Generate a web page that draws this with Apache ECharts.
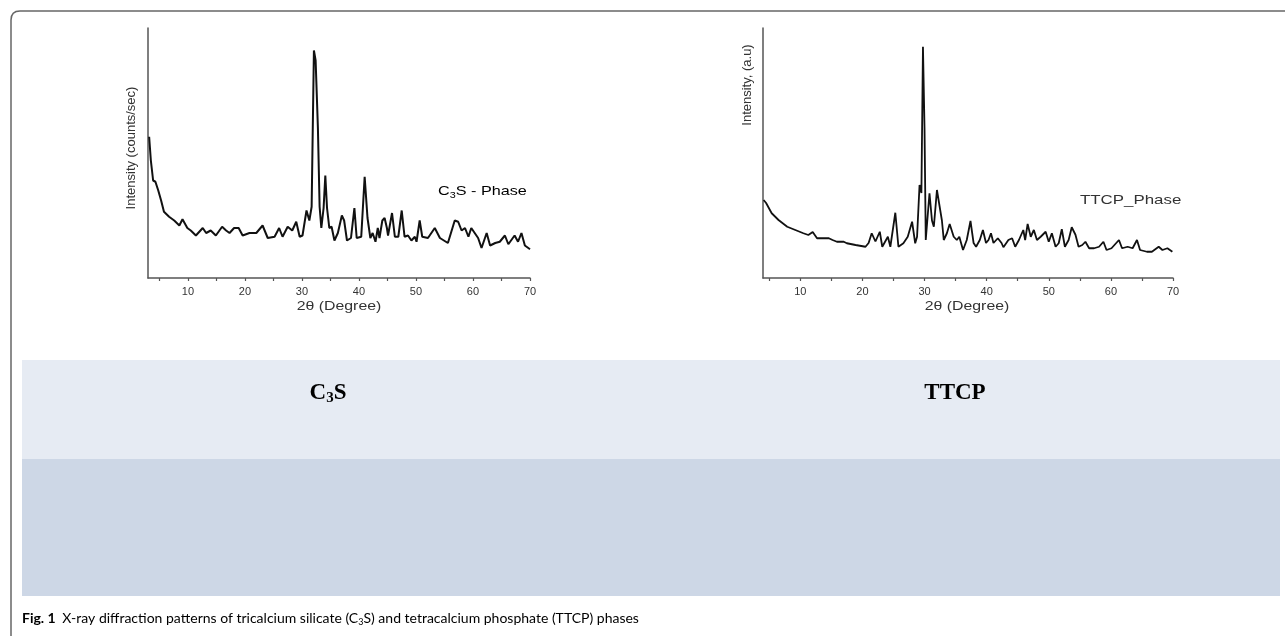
<!DOCTYPE html>
<html>
<head>
<meta charset="utf-8">
<script src="https://cdn.jsdelivr.net/npm/echarts@6/dist/echarts.min.js"></script>
<style>
html,body{margin:0;padding:0;background:#fff;}
#c{width:1285px;height:636px;}
</style>
</head>
<body>
<div id="c"></div>
<script>
// ---- data (2θ in degrees, intensity in arbitrary units) ----
const c3sTheta = [3.2,3.5,3.9,4.3,4.8,5.3,5.8,6.7,7.6,8.5,9.05,9.9,10.5,11.4,12.6,13.2,14.0,14.9,16.0,16.7,17.3,18.1,18.9,19.6,20.8,22.0,23.1,24.0,25.2,26.0,26.6,27.5,28.3,29.0,29.6,30.1,30.8,31.3,31.7,31.9,32.1,32.4,32.6,32.8,33.1,33.4,33.8,34.1,34.4,34.8,35.2,35.7,36.3,37.0,37.4,37.9,38.6,39.2,39.6,40.4,41.0,41.5,42.0,42.4,42.9,43.3,43.6,44.1,44.5,44.9,45.1,45.8,46.3,46.9,47.5,48.0,48.6,49.2,49.8,50.1,50.65,51.1,52.1,53.3,54.2,55.6,56.8,57.4,58.0,58.6,59.2,59.7,60.3,60.9,61.5,62.4,63.0,63.9,64.7,65.6,66.2,67.3,67.9,68.5,69.1,70.0];
const c3sIntensity = [56.5,47,39,38.5,35,31,26.5,24.5,23,21,23.5,20,19,17,20,18,19,17,20.5,19,18,20,20,17,18,18,21,16,16.5,20,16.5,20.5,19,22.5,16.5,17,27,23,28.5,60,91,87,87,60,28.5,20,28,41,28,20,20.5,15,18,25,23,15,16,28,16,16.5,40.5,24,16,18,14.5,20,16,23,24,20,17,26,16.5,16.5,27,16.5,17,15,16.5,14.5,23,16.5,16,20,16,14,23,22.5,19,20,16.5,20,18,16,12,18,13,14,14.5,17,13.5,17,14.5,18,13,11.5];

const ttcpTheta = [4.1,4.5,5.4,6.5,7.9,9.2,10.5,11.3,12.0,12.7,14.6,15.2,15.9,17.0,17.5,18.9,20.5,21.0,21.5,22.1,22.8,23.2,24.1,24.5,25.3,25.8,26.6,27.3,28.0,28.5,28.8,29.2,29.5,29.75,30.0,30.2,30.8,31.2,31.5,32.0,32.3,32.8,33.1,33.6,34.05,34.7,35.2,35.6,36.2,36.8,37.4,37.9,38.3,38.9,39.4,39.9,40.3,40.7,41.1,41.8,42.4,42.7,43.5,44.1,44.6,45.2,45.9,46.2,46.6,47.1,47.6,48.1,48.7,49.5,50.0,50.5,51.1,51.6,52.1,52.6,53.2,53.7,54.3,54.8,55.4,55.9,56.5,57.3,58.1,58.8,59.3,60.1,61.3,61.8,62.7,63.5,64.2,64.7,65.8,66.6,67.7,68.3,69.1,69.9];
const ttcpIntensity = [31.2,30,25.9,23.2,20.5,19.2,17.9,17.2,18.4,15.9,15.9,15.2,14.5,14.5,13.9,13.2,12.5,14,17.9,14.6,18.5,12.5,16.5,12.5,26.1,12.5,13.9,16.5,22.5,13.9,16.5,37.2,34,92.5,60,15.2,33.9,23,20.5,35.2,34.5,23,15.2,17.9,21.6,16.5,15.2,16.5,11.2,15.2,22.8,14,12.5,15.2,19.2,14,15.2,17.9,14,15.9,14,12.3,15.2,15.9,12.5,15.2,19.2,15.2,21.6,16.5,19.2,15.2,16.5,18.5,14.5,17.9,12.5,13.9,19.5,12.5,15.2,20.3,17.3,12.5,13.2,14.5,11.9,11.9,12.5,14.5,11.2,11.9,15.2,11.9,12.5,11.9,15.2,11.2,10.5,10.5,12.5,11.2,11.9,10.5];

const tickValues = [5,10,15,20,25,30,35,40,45,50,55,60,65,70];
const labelValues = [10,20,30,40,50,60,70];
const xAxisName = '2θ (Degree)';
const yNames = ['Intensity (counts/sec)', 'Intensity, (a.u)'];

const pairs = (xs, ys) => xs.map((x, i) => [x, ys[i]]);

const axisColor = '#555';
const font = '"Liberation Sans", Arial, sans-serif';

function makeX(gridIndex, min) {
  return {
    type: 'value', gridIndex: gridIndex, min: min, max: 70,
    axisLine: {show: true, lineStyle: {color: axisColor, width: 1.5}},
    axisTick: {show: true, length: 3, inside: false, customValues: tickValues, lineStyle: {color: axisColor, width: 1.2}},
    axisLabel: {customValues: labelValues, margin: 8, fontFamily: font, fontSize: 11, color: '#333'},
    splitLine: {show: false}
  };
}
function makeY(gridIndex) {
  return {
    type: 'value', gridIndex: gridIndex, min: 0, max: 100,
    axisLine: {show: true, onZero: false, lineStyle: {color: axisColor, width: 1.5}},
    axisTick: {show: false}, axisLabel: {show: false}, splitLine: {show: false}
  };
}
function stretchedText(x, y, text, size, sx, align) {
  return {type: 'text', x: x, y: y, scaleX: sx, style: {
    text: text, align: align, verticalAlign: 'middle', fontFamily: font, fontSize: size, fill: '#333'}};
}

const chart = echarts.init(document.getElementById('c'), null, {renderer: 'canvas'});
chart.setOption({
  backgroundColor: '#fff',
  animation: false,
  grid: [
    {left: 148, top: 28, width: 382, height: 250},
    {left: 763, top: 28, width: 410, height: 250}
  ],
  xAxis: [makeX(0, 3), makeX(1, 4)],
  yAxis: [makeY(0), makeY(1)],
  series: [
    {type: 'line', xAxisIndex: 0, yAxisIndex: 0, data: pairs(c3sTheta, c3sIntensity), showSymbol: false,
     lineStyle: {color: '#111', width: 2}},
    {type: 'line', xAxisIndex: 1, yAxisIndex: 1, data: pairs(ttcpTheta, ttcpIntensity), showSymbol: false,
     lineStyle: {color: '#111', width: 1.8}}
  ],
  graphic: [
    // outer frame
    {type: 'line', z: 10, shape: {x1: 11, y1: 636, x2: 11, y2: 20}, style: {stroke: '#666', lineWidth: 1.5}},
    {type: 'bezierCurve', z: 10, shape: {x1: 11, y1: 20, x2: 20, y2: 11, cpx1: 11, cpy1: 11}, style: {stroke: '#666', lineWidth: 1.5, fill: null}},
    {type: 'line', z: 10, shape: {x1: 20, y1: 11, x2: 1285, y2: 11}, style: {stroke: '#666', lineWidth: 1.5}},
    // boxes below
    {type: 'rect', shape: {x: 22, y: 360, width: 1258, height: 99}, style: {fill: '#e6ebf3'}},
    {type: 'rect', shape: {x: 22, y: 459, width: 1258, height: 137}, style: {fill: '#cdd7e6'}},
    // panel titles
    {type: 'text', x: 328, y: 393, style: {
      text: '{b|C}{s|3}{b|S}', align: 'center', verticalAlign: 'middle',
      rich: {
        b: {fontFamily: '"Liberation Serif", serif', fontWeight: 'bold', fontSize: 23, color: '#000', lineHeight: 26},
        s: {fontFamily: '"Liberation Serif", serif', fontWeight: 'bold', fontSize: 15, color: '#000', lineHeight: 16, verticalAlign: 'bottom'}
      }}},
    {type: 'text', x: 955, y: 393, style: {
      text: 'TTCP', align: 'center', verticalAlign: 'middle',
      fontFamily: '"Liberation Serif", serif', fontWeight: 'bold', fontSize: 23, fill: '#000'}},
    // x axis names
    stretchedText(339, 306, xAxisName, 13, 1.22, 'center'),
    stretchedText(967, 306, xAxisName, 13, 1.22, 'center'),
    // y axis names
    {type: 'text', x: 131, y: 148, rotation: Math.PI / 2, style: {
      text: yNames[0], align: 'center', verticalAlign: 'middle', fontFamily: font, fontSize: 13, fill: '#333'}},
    {type: 'text', x: 747, y: 85, rotation: Math.PI / 2, style: {
      text: yNames[1], align: 'center', verticalAlign: 'middle', fontFamily: font, fontSize: 13, fill: '#333'}},
    // phase labels
    {type: 'text', x: 438, y: 191, scaleX: 1.2, style: {
      text: '{n|C}{s|3}{n|S - Phase}', align: 'left', verticalAlign: 'middle',
      rich: {
        n: {fontFamily: font, fontSize: 13.5, color: '#333', lineHeight: 18},
        s: {fontFamily: font, fontSize: 9, color: '#333', lineHeight: 10, verticalAlign: 'bottom'}
      }}},
    stretchedText(1080, 200, 'TTCP_Phase', 13.5, 1.25, 'left'),
    // caption
    {type: 'text', x: 22, y: 618, style: {
      text: '{b|Fig. 1}  {n|X-ray diffraction patterns of tricalcium silicate (C}{s|3}{n|S) and tetracalcium phosphate (TTCP) phases}',
      align: 'left', verticalAlign: 'middle',
      rich: {
        b: {fontFamily: 'Lato, sans-serif', fontWeight: 'bold', fontSize: 14, color: '#222', lineHeight: 18},
        n: {fontFamily: 'Lato, sans-serif', fontSize: 14, color: '#222', lineHeight: 18},
        s: {fontFamily: 'Lato, sans-serif', fontSize: 9, color: '#222', lineHeight: 10, verticalAlign: 'bottom'}
      }}}
  ]
});
</script>
</body>
</html>
